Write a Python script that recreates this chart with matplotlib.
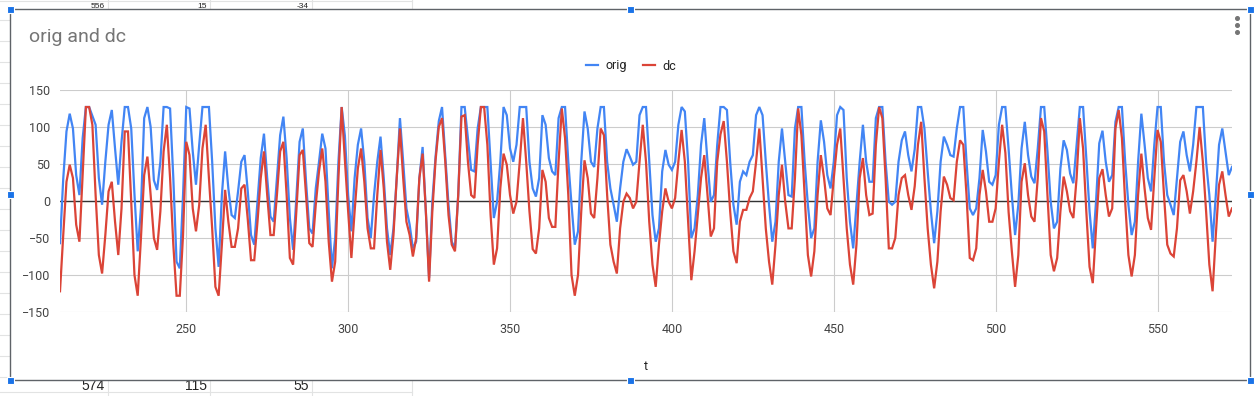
import matplotlib
matplotlib.use('Agg')
import matplotlib.pyplot as plt
from matplotlib.patches import Rectangle
from matplotlib.lines import Line2D

plt.rcParams['font.family'] = ['Roboto', 'DejaVu Sans']

# ------------------------------------------------------------
# data (t = 211 .. 573)
# ------------------------------------------------------------
t_start = 211
orig = [
    -57, 30, 94, 118, 98, 35, 8, 85, 127, 127, 115, 103, 31, -5, 53, 103, 123, 71, 22, 80,
    127, 127, 98, 9, -68, -10, 112, 127, 100, 28, 15, 53, 127, 127, 125, 31, -82, -91, 8, 127,
    125, 67, 22, 76, 127, 127, 127, 53, -37, -89, 8, 67, 17, -19, -23, 13, 53, 62, 13, -46,
    -59, -1, 58, 91, 31, -21, -28, 31, 89, 114, 58, -23, -66, 4, 80, 98, 26, -37, -44, 17,
    53, 91, 71, -14, -91, -50, 53, 127, 88, 8, -41, 31, 76, 98, 53, -23, -50, 8, 53, 87,
    31, -37, -73, -37, 31, 112, 53, -10, -32, -64, -55, 31, 73, -14, -104, -1, 60, 108, 127, 62,
    -5, -55, -64, 8, 127, 127, 85, 42, 40, 98, 127, 127, 127, 53, -23, -1, 53, 127, 116, 71,
    53, 76, 127, 127, 127, 53, 17, 6, 31, 116, 103, 58, 40, 35, 112, 127, 127, 53, -5, -59,
    -41, 53, 121, 98, 53, 46, 98, 127, 127, 53, 17, -5, -28, 17, 53, 70, 60, 49, 53, 116,
    127, 127, 53, -19, -55, -37, 40, 69, 49, 42, 53, 103, 127, 121, 53, -50, -37, 8, 76, 112,
    53, -1, 8, 76, 127, 127, 123, 53, -5, -32, 26, 40, 35, 53, 62, 116, 127, 116, 53, -5,
    -55, -28, 53, 98, 53, 8, 6, 98, 127, 127, 53, -5, -50, -37, 53, 109, 80, 35, 17, 53,
    116, 127, 123, 31, -28, -64, -5, 53, 103, 53, 26, 26, 112, 127, 127, 53, -1, -5, -1, 53,
    82, 94, 62, 40, 70, 127, 127, 98, 40, -14, -57, -14, 53, 87, 76, 62, 60, 98, 127, 127,
    53, -10, -19, -10, 31, 96, 67, 26, 22, 35, 103, 127, 127, 70, 8, -46, -5, 71, 107, 62,
    33, 24, 71, 127, 127, 67, -1, -37, -28, 44, 82, 69, 37, 24, 76, 127, 127, 58, -14, -64,
    -1, 78, 95, 53, 26, 35, 107, 127, 127, 53, -5, -46, -28, 53, 118, 76, 31, 13, 76, 127,
    127, 53, 8, -5, -19, 31, 80, 94, 62, 40, 76, 127, 127, 127, 53, 8, -55, 8, 76, 98,
    67, 35, 46,
]
dc = [
    -122, -46, 26, 49, 31, -32, -55, 35, 127, 127, 103, 8, -73, -98, -46, 13, 26, -28, -73, -10,
    94, 94, -1, -100, -128, -50, 35, 60, 8, -50, -66, -14, 67, 103, 31, -59, -128, -128, -46, 80,
    62, -10, -41, -5, 71, 103, 31, -37, -116, -128, -59, 15, -28, -62, -62, -37, 17, 22, -25, -80,
    -80, -28, 31, 67, 8, -46, -46, 8, 67, 80, 8, -77, -86, -14, 62, 69, 8, -57, -62, -5,
    40, 71, 26, -55, -109, -82, 31, 127, 55, -14, -77, -14, 44, 71, 26, -37, -64, -64, 8, 69,
    17, -55, -93, -46, 31, 98, 31, -28, -46, -75, -50, 31, 64, -14, -109, -14, 55, 100, 112, 53,
    -19, -59, -68, 8, 114, 116, 53, 8, 4, 76, 127, 127, 76, -19, -86, -64, 17, 64, 49, 8,
    -17, -1, 53, 112, 53, -14, -65, -71, -37, 42, 26, -23, -35, -35, 53, 125, 85, 8, -100, -128,
    -100, -14, 55, 31, -17, -23, 31, 98, 89, 8, -59, -82, -98, -37, -1, 10, 4, -10, -1, 53,
    103, 53, -28, -86, -116, -59, -14, 17, -1, -10, 4, 53, 96, 53, -28, -107, -68, -19, 31, 62,
    8, -48, -37, 53, 90, 108, 53, -14, -68, -84, -28, -12, -12, 4, 13, 53, 98, 31, -37, -82,
    -113, -59, 8, 49, -1, -37, -37, 31, 125, 89, 8, -73, -102, -68, 8, 62, 31, -10, -19, 31,
    76, 98, 31, -37, -86, -113, -59, 31, 58, 8, -19, -17, 76, 127, 112, 31, -64, -64, -50, 8,
    31, 35, 8, -12, 20, 76, 107, 31, -37, -86, -118, -82, -14, 33, 22, 4, 1, 53, 82, 76,
    8, -77, -80, -64, 8, 42, 13, -28, -28, -10, 53, 103, 65, -15, -68, -116, -73, 26, 51, 8,
    -21, -28, 31, 112, 94, 8, -73, -95, -77, -14, 33, 13, -14, -23, 31, 112, 71, -14, -89, -111,
    -37, 31, 43, 8, -21, -10, 98, 123, 85, -1, -73, -102, -73, 8, 64, 17, -23, -39, 31, 96,
    80, 8, -59, -71, -75, -37, 28, 35, 13, -17, 13, 53, 100, 53, -14, -86, -122, -46, 22, 40,
    8, -21, -10,
]
t = list(range(t_start, t_start + len(orig)))

x_ticks = [250, 300, 350, 400, 450, 500, 550]
y_ticks = [-150, -100, -50, 0, 50, 100, 150]

# spreadsheet cells peeking above / below the chart
cells_top = ['556', '15', '-34']
cells_bottom = ['574', '115', '55']

# ------------------------------------------------------------
# figure
# ------------------------------------------------------------
W, H = 1260, 396
fig = plt.figure(figsize=(W / 100, H / 100), dpi=100)
fig.patch.set_facecolor('white')


def fx(px):
    return px / W


def fy(py):
    return 1 - py / H


# sheet grid outside the chart
for xc in [108, 210, 312, 412]:
    fig.add_artist(Line2D([fx(xc), fx(xc)], [0, 1], color='#e2e3e3', lw=0.8, zorder=0))
for yc in [1, 392]:
    fig.add_artist(Line2D([0, fx(412)], [fy(yc), fy(yc)], color='#e2e3e3', lw=0.8, zorder=0))
for yc in range(20, 380, 21):
    fig.add_artist(Line2D([0, fx(10)], [fy(yc), fy(yc)], color='#e2e3e3', lw=0.8, zorder=0))
for xr, s in zip([105, 207, 309], cells_top):
    fig.text(fx(xr), fy(8), s, ha='right', va='baseline', fontsize=6,
             family=['Liberation Sans', 'DejaVu Sans'], color='#222222', zorder=0)
for xr, s in zip([105, 207, 309], cells_bottom):
    fig.text(fx(xr), fy(390), s, ha='right', va='baseline', fontsize=10,
             family=['Liberation Sans', 'DejaVu Sans'], color='#222222', zorder=0)

# chart card
fig.add_artist(Rectangle((fx(10), fy(380)), fx(1240), 371 / H, transform=fig.transFigure,
                         facecolor='white', edgecolor='#5f6368', lw=1.0, zorder=1))
for hx in [10, 630, 1250]:
    for hy in [9, 194, 380]:
        if hx == 630 and hy == 194:
            continue
        fig.add_artist(Rectangle((fx(hx - 3.5), fy(hy + 3.5)), 7 / W, 7 / H,
                                 transform=fig.transFigure, facecolor='#1a73e8',
                                 edgecolor='white', lw=0.8, zorder=2))
for dy in [18, 25, 32]:
    fig.add_artist(Line2D([fx(1237)], [fy(dy)], marker='o', ms=2.6, color='#757575',
                          lw=0, zorder=2))

fig.text(fx(29), fy(37), 'orig and dc', fontsize=14, color='#757575', va='center', zorder=3)

ax = fig.add_axes([fx(60), fy(312), fx(1232 - 60), (312 - 90) / H], zorder=3)
ax.set_facecolor('none')
ax.plot(t, orig, color='#4285f4', lw=1.6, solid_joinstyle='miter', label='orig', zorder=3)
ax.plot(t, dc, color='#db4437', lw=1.6, solid_joinstyle='miter', label='dc', zorder=4)
ax.axhline(0, color='#333333', lw=1.0, zorder=2)

ax.set_xlim(t[0], t[-1])
ax.set_ylim(-150, 150)
ax.set_xticks(x_ticks)
ax.set_yticks(y_ticks)
ax.grid(True, color='#cccccc', lw=0.8, zorder=0)
ax.tick_params(length=0, labelsize=9, labelcolor='#444444')
ax.tick_params(axis='y', pad=7)
ax.tick_params(axis='x', pad=8)
for s in ax.spines.values():
    s.set_visible(False)
ax.set_xlabel('t', fontsize=9, color='#222222', labelpad=17)

fig.legend(handles=ax.get_lines()[:2], loc='center', bbox_to_anchor=(fx(631), fy(66)),
           ncol=2, frameon=False, fontsize=9, handlelength=0.95, handletextpad=0.6,
           columnspacing=1.3, labelcolor='#222222')

fig.savefig('out.png', dpi=100)
